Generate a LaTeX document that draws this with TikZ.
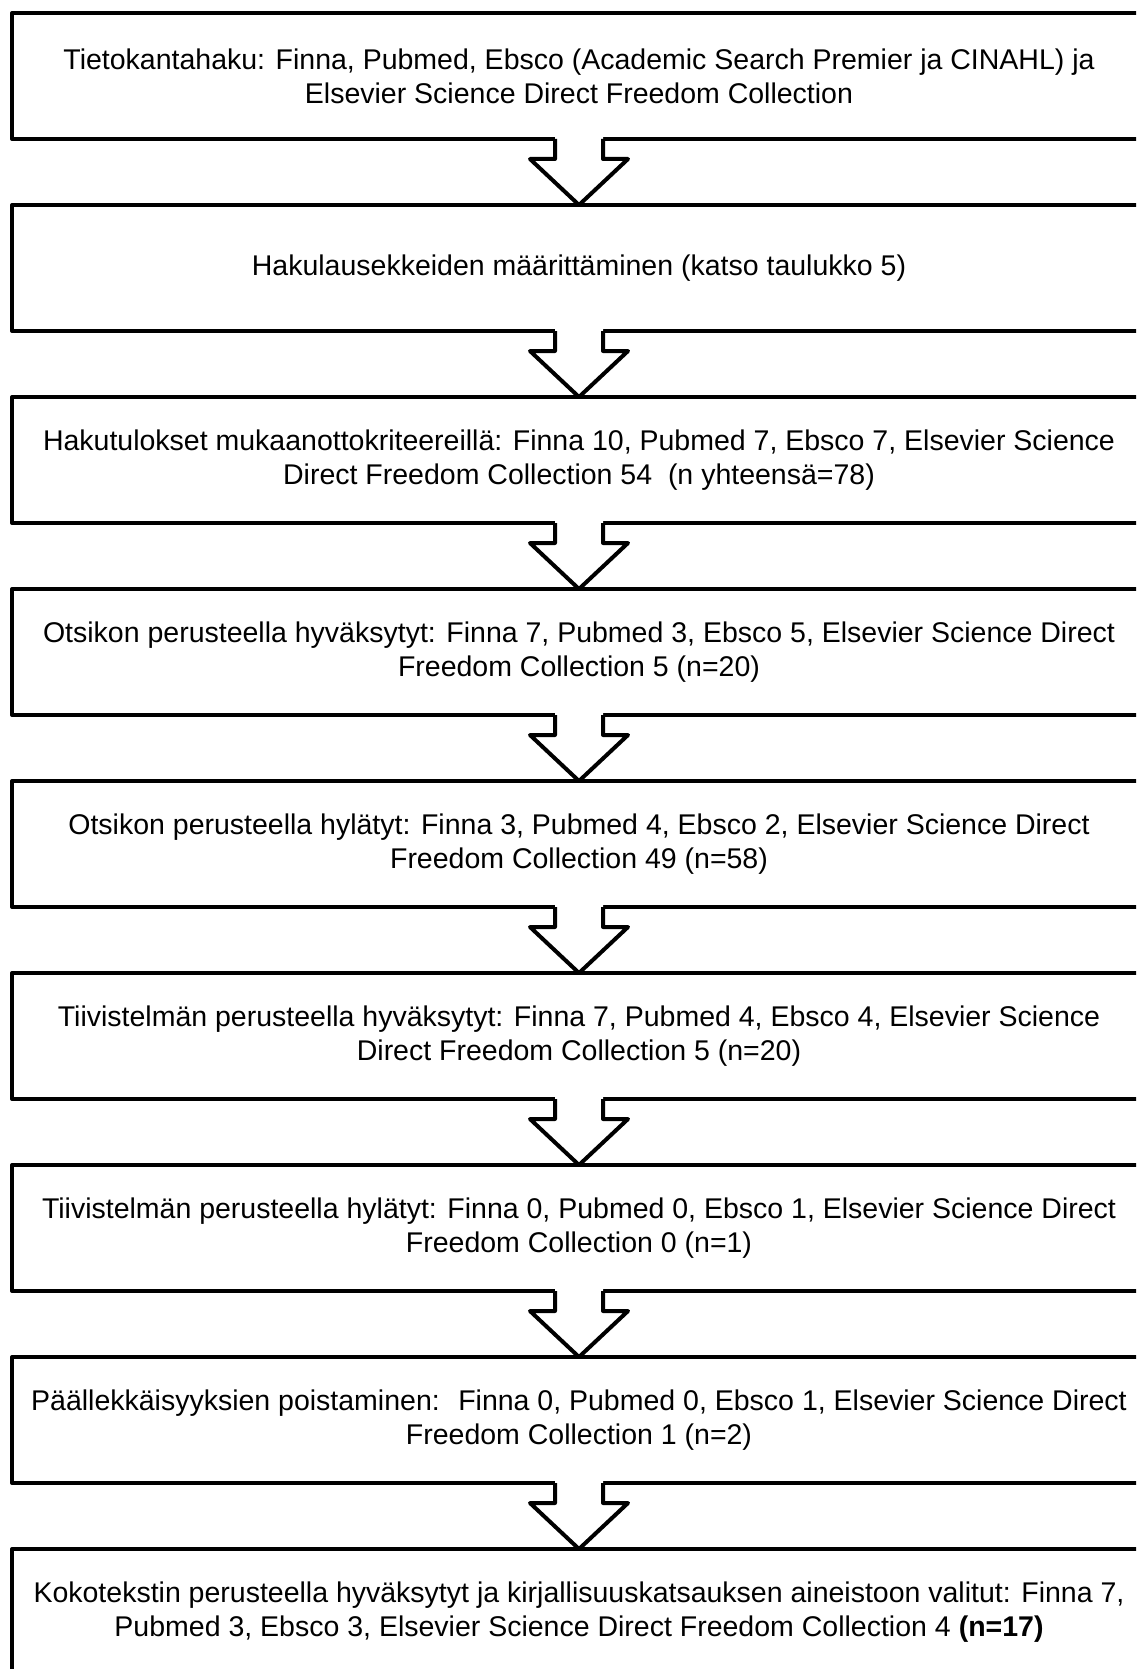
\documentclass[tikz,border=0pt]{standalone}
\usepackage{fontspec}
\setmainfont{Liberation Sans}
\usetikzlibrary{calc}
\begin{document}
\begin{tikzpicture}[x=1pt,y=-1pt,
  flowbox/.style={draw, line width=4pt, line join=round, minimum width=1134pt,
    minimum height=126pt, inner sep=0pt, outer sep=0pt, align=center,
    font=\fontsize{28.5}{34}\selectfont},
  blockarrow/.style={line width=4pt, line join=round}]
\useasboundingbox (0,0) rectangle (1136,1669);
\clip (0,0) rectangle (1136,1669);
\fill[white] (0,0) rectangle (1136,1669);
\node[flowbox] (b1) at (579,76) {Tietokantahaku: Finna, Pubmed, Ebsco (Academic Search Premier ja CINAHL) ja\\Elsevier Science Direct Freedom Collection};
\node[flowbox] (b2) at (579,268) {Hakulausekkeiden määrittäminen (katso taulukko 5)};
\node[flowbox] (b3) at (579,460) {Hakutulokset mukaanottokriteereillä: Finna 10, Pubmed 7, Ebsco 7, Elsevier Science\\Direct Freedom Collection 54 \ (n yhteensä=78)};
\node[flowbox] (b4) at (579,652) {Otsikon perusteella hyväksytyt: Finna 7, Pubmed 3, Ebsco 5, Elsevier Science Direct\\Freedom Collection 5 (n=20)};
\node[flowbox] (b5) at (579,844) {Otsikon perusteella hylätyt: Finna 3, Pubmed 4, Ebsco 2, Elsevier Science Direct\\Freedom Collection 49 (n=58)};
\node[flowbox] (b6) at (579,1036) {Tiivistelmän perusteella hyväksytyt: Finna 7, Pubmed 4, Ebsco 4, Elsevier Science\\Direct Freedom Collection 5 (n=20)};
\node[flowbox] (b7) at (579,1228) {Tiivistelmän perusteella hylätyt: Finna 0, Pubmed 0, Ebsco 1, Elsevier Science Direct\\Freedom Collection 0 (n=1)};
\node[flowbox] (b8) at (579,1420) {Päällekkäisyyksien poistaminen: \ Finna 0, Pubmed 0, Ebsco 1, Elsevier Science Direct\\Freedom Collection 1 (n=2)};
\node[flowbox] (b9) at (579,1612) {Kokotekstin perusteella hyväksytyt ja kirjallisuuskatsauksen aineistoon valitut: Finna 7,\\Pubmed 3, Ebsco 3, Elsevier Science Direct Freedom Collection 4 \textbf{(n=17)}};
\foreach \a/\b in {b1/b2,b2/b3,b3/b4,b4/b5,b5/b6,b6/b7,b7/b8,b8/b9}{
  \fill[white] ($(\a.south)+(-24,-2.6)$) -- ($(\a.south)+(-24,20)$) -- ($(\a.south)+(-49,20)$)
    -- (\b.north) -- ($(\a.south)+(49,20)$) -- ($(\a.south)+(24,20)$) -- ($(\a.south)+(24,-2.6)$) -- cycle;
  \draw[blockarrow] ($(\a.south)+(-24,0)$) -- ($(\a.south)+(-24,20)$) -- ($(\a.south)+(-49,20)$)
    -- (\b.north) -- ($(\a.south)+(49,20)$) -- ($(\a.south)+(24,20)$) -- ($(\a.south)+(24,0)$);
}
\end{tikzpicture}
\end{document}
